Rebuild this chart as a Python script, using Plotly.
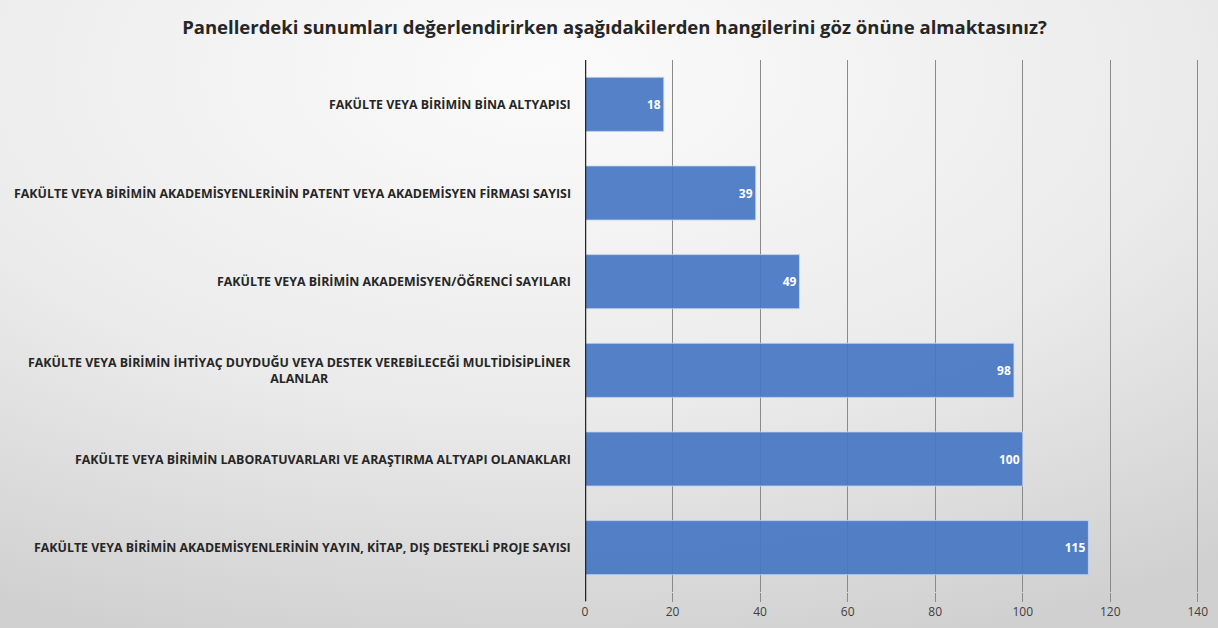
import base64
import plotly.graph_objects as go

categories = [
    "FAKÜLTE VEYA BİRİMİN BİNA ALTYAPISI",
    "FAKÜLTE VEYA BİRİMİN AKADEMİSYENLERİNİN PATENT VEYA AKADEMİSYEN FİRMASI SAYISI",
    "FAKÜLTE VEYA BİRİMİN AKADEMİSYEN/ÖĞRENCİ SAYILARI",
    "FAKÜLTE VEYA BİRİMİN İHTİYAÇ DUYDUĞU VEYA DESTEK VEREBİLECEĞİ MULTİDİSİPLİNER<br>ALANLAR",
    "FAKÜLTE VEYA BİRİMİN LABORATUVARLARI VE ARAŞTIRMA ALTYAPI OLANAKLARI",
    "FAKÜLTE VEYA BİRİMİN AKADEMİSYENLERİNİN YAYIN, KİTAP, DIŞ DESTEKLİ PROJE SAYISI",
]
values = [18, 39, 49, 98, 100, 115]
x_ticks = [0, 20, 40, 60, 80, 100, 120, 140]
title = "Panellerdeki sunumları değerlendirirken aşağıdakilerden hangilerini göz önüne almaktasınız?"

W, H = 1218, 628
ML, MR, MT, MB = 585, 18, 60, 36
PW, PH = W - ML - MR, H - MT - MB
FONT = "Open Sans, sans-serif"

svg = f'''<svg xmlns="http://www.w3.org/2000/svg" width="{W}" height="{H}" viewBox="0 0 {W} {H}" preserveAspectRatio="none">
<defs><radialGradient id="g" cx="0.45" cy="0.12" r="0.95">
<stop offset="0" stop-color="#fbfbfb"/><stop offset="0.55" stop-color="#ebebeb"/><stop offset="1" stop-color="#d0d0d0"/>
</radialGradient></defs><rect width="{W}" height="{H}" fill="url(#g)"/></svg>'''
src = "data:image/svg+xml;base64," + base64.b64encode(svg.encode()).decode()

fig = go.Figure()
fig.add_trace(go.Bar(
    y=categories, x=values, orientation="h",
    marker=dict(color="rgba(70,118,196,0.92)", line=dict(color="rgba(200,215,240,0.8)", width=1)),
    texttemplate="<b>%{x}</b>", textposition="inside", insidetextanchor="end",
    textfont=dict(color="white", size=12, family=FONT),
    cliponaxis=False,
))

annotations = []
for c in categories:
    annotations.append(dict(
        x=0, y=c, xref="x", yref="y", text=f"<b>{c}</b>", showarrow=False,
        xanchor="right", align="center", xshift=-12,
        font=dict(size=12.4, color="#262626", family=FONT),
    ))

fig.update_layout(
    width=W, height=H,
    margin=dict(l=ML, r=MR, t=MT, b=MB, autoexpand=False),
    paper_bgcolor="#e6e6e6", plot_bgcolor="rgba(0,0,0,0)",
    title=dict(text=f"<b>{title}</b>", x=614.5 / W, xref="container", xanchor="center", y=1 - 28 / H, yanchor="middle",
               font=dict(size=18.5, color="#262626", family=FONT)),
    bargap=0.39,
    showlegend=False,
    annotations=annotations,
    images=[dict(source=src, xref="paper", yref="paper", x=-ML / PW, y=1 + MT / PH,
                 sizex=W / PW, sizey=H / PH, sizing="stretch", layer="below", xanchor="left", yanchor="top")],
)
fig.update_xaxes(
    range=[0, 140.5], tickvals=x_ticks, showgrid=True, gridcolor="#8a8a8a", gridwidth=1,
    ticks="outside", ticklen=9, tickcolor="#8a8a8a", zeroline=False, showline=False, automargin=False,
    tickfont=dict(size=12, color="#404040", family=FONT),
)
fig.update_yaxes(autorange="reversed", showticklabels=False, showgrid=False, zeroline=False, showline=False,
                 automargin=False)
fig.add_shape(type="line", xref="x", yref="paper", x0=0, x1=0, y0=-0.017, y1=1,
              line=dict(color="#262626", width=2.5))

fig.write_html("out.html", config={"displayModeBar": False},
               post_script="document.body.style.margin='0px';document.body.style.overflow='hidden';")
